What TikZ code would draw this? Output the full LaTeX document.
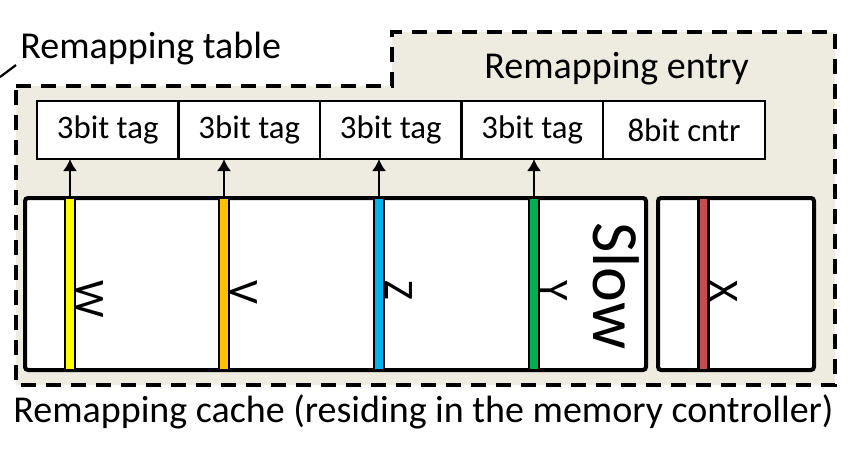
\documentclass[tikz,border=0pt]{standalone}
\usepackage{fontspec}
\setmainfont{Carlito}
\usetikzlibrary{positioning,arrows.meta}
\definecolor{paneltan}{HTML}{EEECE1}
\definecolor{slotyellow}{HTML}{FFFF00}
\definecolor{slotorange}{HTML}{FFC000}
\definecolor{slotblue}{HTML}{00B0F0}
\definecolor{slotgreen}{HTML}{00B050}
\definecolor{slotred}{HTML}{C0504D}
\tikzset{
  tagcell/.style={draw, line width=1.2pt, fill=white, outer sep=0pt, inner sep=0pt,
    minimum width=70.75pt, minimum height=29pt, font=\fontsize{16.4}{18}\selectfont},
  membox/.style={draw, line width=2pt, rounded corners=1.5pt, fill=white,
    outer sep=0pt, inner sep=0pt, minimum height=86pt},
  slotbar/.style={draw, line width=1.1pt, outer sep=0pt, inner sep=0pt,
    minimum width=5pt, minimum height=86pt},
  slotlbl/.style={rotate=-90, anchor=base west, inner sep=0pt, font=\fontsize{21}{24}\selectfont},
  title/.style={anchor=base west, inner sep=0pt, font=\fontsize{19}{22}\selectfont},
  arr/.style={-{Latex[length=6pt,width=7pt]}, line width=1pt},
}
\begin{document}
\begin{tikzpicture}[x=0.5pt,y=-0.5pt]
\useasboundingbox (0,0) rectangle (858,450);

% dashed panel
\draw [fill=paneltan, line width=1.9pt, dash pattern=on 7.5pt off 5pt]
  (16,86) -- (392,86) -- (392,32) -- (835,32) -- (835,385) -- (16,385) -- cycle;
\coordinate (lead) at (0,77);
\draw [line width=1.1pt] (lead) -- (16,65);

\node [title] (tbl) at (20,58) {Remapping table};
\node [title] (ent) at (484,78) {Remapping entry};
\node [title] (cache) at (13,422) {Remapping cache (residing in the memory controller)};

% remapping entry
\node [tagcell, anchor=north west] (tagA) at (37,101) {3bit tag};
\node [tagcell, right=0pt of tagA] (tagB) {3bit tag};
\node [tagcell, right=0pt of tagB] (tagC) {3bit tag};
\node [tagcell, right=0pt of tagC] (tagD) {3bit tag};
\node [tagcell, right=0pt of tagD, minimum width=81pt] (cntr) {8bit cntr};

% cache sets
\node [membox, anchor=north west, minimum width=310.5pt] (slow) at (25,198) {};
\node [membox, anchor=north west, minimum width=78pt] (fast) at (658,198) {};

\node [slotbar, fill=slotyellow] (w) at (70,284) {};
\node [slotbar, fill=slotorange] (v) at (224,284) {};
\node [slotbar, fill=slotblue] (z) at (379,284) {};
\node [slotbar, fill=slotgreen] (y) at (534,284) {};
\node [slotbar, fill=slotred] (x) at (703.5,284) {};

\node [slotlbl] at (76,280) {W};
\node [slotlbl] at (230,280) {V};
\node [slotlbl] at (385,280) {Z};
\node [slotlbl] at (540,280) {Y};
\node [slotlbl] at (710,280) {X};
\node [slotlbl, font=\fontsize{33}{36}\selectfont] at (593,222) {Slow};

\draw [arr] (w.north) -- (w.north |- tagA.south);
\draw [arr] (v.north) -- (v.north |- tagB.south);
\draw [arr] (z.north) -- (z.north |- tagC.south);
\draw [arr] (y.north) -- (y.north |- tagD.south);
\end{tikzpicture}
\end{document}
